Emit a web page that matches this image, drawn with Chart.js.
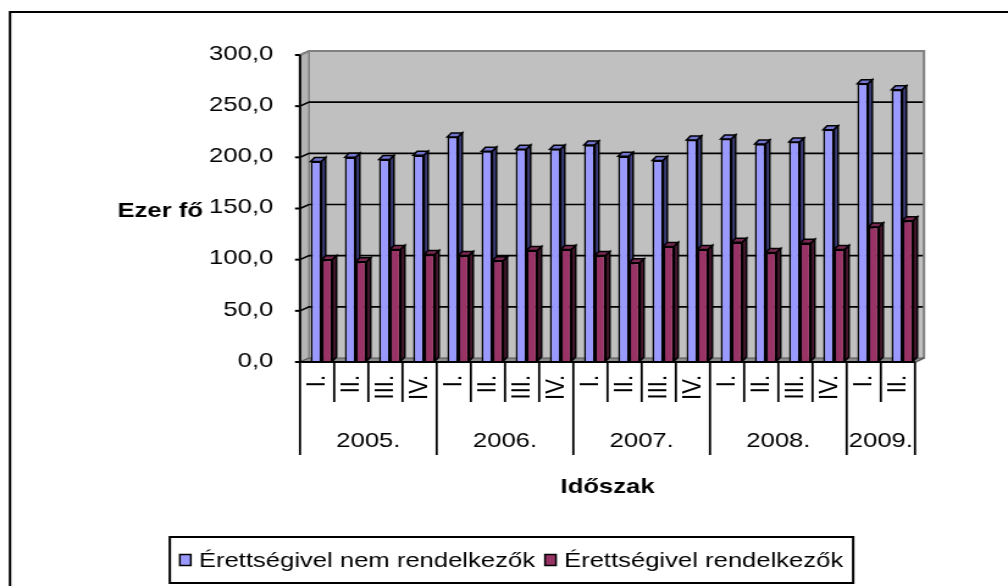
<!DOCTYPE html>
<html>
<head>
<meta charset="utf-8">
<script src="https://cdn.jsdelivr.net/npm/chart.js@4/dist/chart.umd.min.js"></script>
<style>
  body { margin: 0; background: #fff; }
</style>
</head>
<body>
<!-- the original picture is stretched sideways, so the canvas is too (inline style so Chart.js keeps it) -->
<canvas id="chart" width="826" height="586" style="display:block;width:1008px;height:586px"></canvas>
<script>
// Adatok
const negyedevek = ["I.", "II.", "III.", "IV.", "I.", "II.", "III.", "IV.", "I.", "II.", "III.", "IV.",
  "I.", "II.", "III.", "IV.", "I.", "II."];
const evek = ["2005.", "2006.", "2007.", "2008.", "2009."];
const evNegyedek = [4, 4, 4, 4, 2]; // hány negyedév tartozik egy évhez
const nemRendelkezok = [195, 199, 197, 201, 219, 205, 207, 207, 211, 200, 196, 216, 217, 212, 214, 226, 271, 265];
const rendelkezok = [99, 97, 109, 104, 103, 98, 108, 109, 103, 96, 112, 109, 116, 106, 115, 109, 131, 137];
const sorozatNevek = ["Érettségivel nem rendelkezők", "Érettségivel rendelkezők"];
const yMin = 0, yMax = 300, yLepes = 50;

const SX = 1008 / 826;          // vízszintes nyújtás
const px = (v) => v / SX;       // képernyő px -> vászon px
const FONT = '"Liberation Sans", Arial, sans-serif';
const ELOL = -px(4.5), ELOL_Y = 1;   // első sík eltolása
const HATUL = px(4.5), HATUL_Y = -3; // hátfal eltolása

const szinek = [
  { elo: "#9999FF", teteje: "#7373D0", oldal: "#3F3F80" },
  { elo: "#993366", teteje: "#7A2852", oldal: "#4A1830" },
];

// 3D háttér, padló és oszlop-oldalak
const terHatter = {
  id: "terHatter",
  beforeDatasetsDraw(chart) {
    const { ctx, chartArea: a, scales: { y } } = chart;
    const y0 = y.getPixelForValue(yMin), yT = y.getPixelForValue(yMax);
    const f0 = a.left + ELOL, f1 = a.right + ELOL;
    const b0 = a.left + HATUL, b1 = a.right + HATUL;
    ctx.save();
    // hátfal
    ctx.fillStyle = "#C0C0C0";
    ctx.fillRect(b0, yT + HATUL_Y, b1 - b0, y0 - yT);
    // oldalfal
    ctx.beginPath();
    ctx.moveTo(f0, yT + ELOL_Y); ctx.lineTo(b0, yT + HATUL_Y);
    ctx.lineTo(b0, y0 + HATUL_Y); ctx.lineTo(f0, y0 + ELOL_Y); ctx.closePath();
    ctx.fillStyle = "#B4B4B4"; ctx.fill();
    ctx.strokeStyle = "#808080"; ctx.lineWidth = 1.5; ctx.stroke();
    // rácsvonalak
    ctx.strokeStyle = "#000"; ctx.lineWidth = 1.6;
    for (let v = yMin + yLepes; v < yMax; v += yLepes) {
      const p = y.getPixelForValue(v);
      ctx.beginPath();
      ctx.moveTo(f0, p + ELOL_Y); ctx.lineTo(b0, p + HATUL_Y); ctx.lineTo(b1, p + HATUL_Y);
      ctx.stroke();
    }
    // hátfal kerete
    ctx.strokeStyle = "#808080"; ctx.lineWidth = 2;
    ctx.beginPath();
    ctx.moveTo(f0, yT + ELOL_Y); ctx.lineTo(b0, yT + HATUL_Y); ctx.lineTo(b1, yT + HATUL_Y);
    ctx.lineTo(b1, y0 + HATUL_Y); ctx.lineTo(f1, y0 + ELOL_Y);
    ctx.stroke();
    // padló
    ctx.beginPath();
    ctx.moveTo(f0, y0 + ELOL_Y); ctx.lineTo(f1, y0 + ELOL_Y);
    ctx.lineTo(b1, y0 + HATUL_Y); ctx.lineTo(b0, y0 + HATUL_Y); ctx.closePath();
    ctx.fillStyle = "#8C8C8C"; ctx.fill();
    ctx.strokeStyle = "#555"; ctx.lineWidth = 1; ctx.stroke();

    // oszlopok teteje és oldala
    const dx = px(4), dy = -4;
    chart.data.datasets.forEach((ds, i) => {
      const meta = chart.getDatasetMeta(i);
      meta.data.forEach((el) => {
        const { x, y: top, base, width } = el.getProps(["x", "y", "base", "width"], true);
        const x0 = x - width / 2, x1 = x + width / 2;
        ctx.lineWidth = 1.5; ctx.strokeStyle = "#000";
        ctx.beginPath();
        ctx.moveTo(x0, top); ctx.lineTo(x0 + dx, top + dy); ctx.lineTo(x1 + dx, top + dy); ctx.lineTo(x1, top);
        ctx.closePath();
        ctx.fillStyle = szinek[i].teteje; ctx.fill(); ctx.stroke();
        ctx.beginPath();
        ctx.moveTo(x1, top); ctx.lineTo(x1 + dx, top + dy); ctx.lineTo(x1 + dx, base + dy); ctx.lineTo(x1, base);
        ctx.closePath();
        ctx.fillStyle = szinek[i].oldal; ctx.fill(); ctx.stroke();
      });
    });
    ctx.restore();
  },
  afterDraw(chart) {
    const { ctx, chartArea: a, scales: { x, y } } = chart;
    const y0 = y.getPixelForValue(yMin) + ELOL_Y, yT = y.getPixelForValue(yMax) + ELOL_Y;
    const f0 = a.left + ELOL, f1 = a.right + ELOL;
    ctx.save();
    ctx.strokeStyle = "#000";
    // értéktengely
    ctx.lineWidth = 2;
    ctx.beginPath(); ctx.moveTo(f0, yT); ctx.lineTo(f0, y0); ctx.stroke();
    for (let v = yMin; v <= yMax; v += yLepes) {
      const p = y.getPixelForValue(v) + ELOL_Y;
      ctx.beginPath(); ctx.moveTo(f0 - px(5), p); ctx.lineTo(f0, p); ctx.stroke();
    }
    // kategória-táblázat
    ctx.beginPath(); ctx.moveTo(f0, y0); ctx.lineTo(f1, y0); ctx.stroke();
    const lep = x.getPixelForValue(1) - x.getPixelForValue(0);
    const hatar = (k) => x.getPixelForValue(0) - lep / 2 + k * lep + ELOL;
    const evHatarok = [0];
    evNegyedek.forEach((n, i) => evHatarok.push(evHatarok[i] + n));
    ctx.lineWidth = 1.8;
    for (let k = 0; k <= negyedevek.length; k++) {
      const xb = hatar(k);
      ctx.beginPath(); ctx.moveTo(xb, y0);
      ctx.lineTo(xb, evHatarok.includes(k) ? 455 : 402);
      ctx.stroke();
    }
    ctx.fillStyle = "#000";
    ctx.textAlign = "center"; ctx.textBaseline = "middle";
    ctx.font = `21px ${FONT}`;
    evek.forEach((ev, i) => {
      ctx.fillText(ev, (hatar(evHatarok[i]) + hatar(evHatarok[i + 1])) / 2, 441);
    });
    // tengelycímek
    ctx.font = `bold 21px ${FONT}`;
    ctx.fillText("Időszak", (f0 + f1) / 2, 487);
    ctx.textAlign = "right";
    ctx.fillText("Ezer fő", px(203), 211);

    // jelmagyarázat
    ctx.font = `21px ${FONT}`;
    const pad = px(10), sq = px(11), gap = px(8), koz = px(10);
    const w = sorozatNevek.map((s) => ctx.measureText(s).width);
    const teljes = pad + sq + gap + w[0] + koz + sq + gap + w[1] + pad;
    let lx = px(511.5) - teljes / 2;
    const ly0 = 537, ly1 = 583, lyc = 560;
    ctx.lineWidth = 2;
    ctx.strokeRect(lx, ly0, teljes, ly1 - ly0);
    lx += pad;
    ctx.textAlign = "left";
    chart.data.datasets.forEach((ds, i) => {
      ctx.fillStyle = ds.backgroundColor;
      ctx.fillRect(lx, lyc - 5.5, sq, 11);
      ctx.lineWidth = 1.5;
      ctx.strokeRect(lx, lyc - 5.5, sq, 11);
      ctx.fillStyle = "#000";
      ctx.fillText(ds.label, lx + sq + gap, lyc + 1);
      lx += sq + gap + w[i] + koz;
    });
    // külső keret: csak a bal és a felső éle látszik
    ctx.lineWidth = 2;
    ctx.strokeRect(px(10), 12, px(1030) - px(10), 600);
    ctx.restore();
  },
};

new Chart(document.getElementById("chart"), {
  type: "bar",
  data: {
    labels: negyedevek,
    datasets: [
      {
        label: sorozatNevek[0],
        data: nemRendelkezok,
        backgroundColor: szinek[0].elo,
        borderColor: "#000",
        borderWidth: 1.6,
        categoryPercentage: 0.64,
        barPercentage: 1,
      },
      {
        label: sorozatNevek[1],
        data: rendelkezok,
        backgroundColor: szinek[1].elo,
        borderColor: "#000",
        borderWidth: 1.6,
        categoryPercentage: 0.64,
        barPercentage: 1,
      },
    ],
  },
  options: {
    responsive: false,
    devicePixelRatio: 1,
    animation: false,
    events: [],
    layout: { padding: { left: 0, right: 826 - px(919.5), top: 54, bottom: 0 } },
    plugins: { legend: { display: false }, tooltip: { enabled: false } },
    scales: {
      x: {
        grid: { display: false },
        border: { display: false },
        ticks: {
          color: "#000",
          font: { family: FONT, size: 22 },
          minRotation: 90,
          maxRotation: 90,
          autoSkip: false,
          padding: 6,
          labelOffset: ELOL,
        },
        afterFit: (s) => { s.height = 586 - 361; },
      },
      y: {
        min: yMin,
        max: yMax,
        grid: { display: false },
        border: { display: false },
        ticks: {
          stepSize: yLepes,
          color: "#000",
          font: { family: FONT, size: 21 },
          padding: px(21.5),
          callback: (v) => v.toFixed(1).replace(".", ","),
        },
        afterFit: (s) => { s.width = px(304.5); },
      },
    },
  },
  plugins: [terHatter],
});
</script>
</body>
</html>
